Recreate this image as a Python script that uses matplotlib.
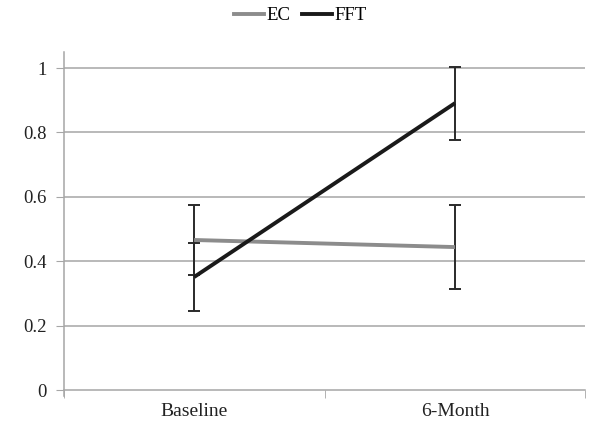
import matplotlib.pyplot as plt
from matplotlib.lines import Line2D

categories = ["Baseline", "6-Month"]
ec_vals = [0.466, 0.444]
ec_err = [0.11, 0.13]
fft_vals = [0.351, 0.891]
fft_err = [0.107, 0.113]
yticks = [0, 0.2, 0.4, 0.6, 0.8, 1]
ytick_labels = ["0", "0.2", "0.4", "0.6", "0.8", "1"]

plt.rcParams['font.family'] = ['Liberation Serif', 'DejaVu Serif']

fig = plt.figure(figsize=(6.01, 4.47), dpi=100)
ax = fig.add_axes([0.106, 0.1275, 0.868, 0.7562])

x = list(range(len(categories)))
grid_col = "#a6a6a6"
for y in yticks[1:]:
    ax.axhline(y, color=grid_col, lw=1.1, zorder=0)

# error bars
ax.errorbar(x, ec_vals, yerr=ec_err, fmt="none", ecolor="#2a2a2a",
            elinewidth=1.4, capsize=4, capthick=1.4, zorder=2)
ax.errorbar(x, fft_vals, yerr=fft_err, fmt="none", ecolor="#2a2a2a",
            elinewidth=1.4, capsize=4, capthick=1.4, zorder=2)

ax.plot(x, ec_vals, color="#8c8c8c", lw=2.8, solid_capstyle="butt", zorder=3, label="EC")
ax.plot(x, fft_vals, color="#1a1a1a", lw=2.8, solid_capstyle="butt", zorder=4, label="FFT")

ax.set_xlim(-0.5, 1.5)
ax.set_ylim(0, 1.05)
ax.set_yticks(yticks)
ax.set_yticklabels(ytick_labels, fontsize=13.5, color="#222222")
ax.set_xticks(x)
ax.set_xticklabels(categories, fontsize=14, color="#222222")
ax.set_xticks([-0.5, 0.5, 1.5], minor=True)
ax.tick_params(axis="x", which="major", length=0, pad=9)
ax.tick_params(axis="x", which="minor", length=6, color=grid_col, direction="out")
ax.tick_params(axis="y", length=6, color=grid_col, direction="out", pad=6)

for side in ["top", "right"]:
    ax.spines[side].set_visible(False)
ax.spines["left"].set_color(grid_col)
ax.spines["bottom"].set_color(grid_col)
ax.spines["left"].set_linewidth(1.1)
ax.spines["bottom"].set_linewidth(1.1)
ax.spines["left"].set_bounds(-0.018, 1.05)

handles = [Line2D([], [], color="#8c8c8c", lw=2.8), Line2D([], [], color="#1a1a1a", lw=2.8)]
fig.legend(handles, ["EC", "FFT"], loc="center", bbox_to_anchor=(0.5, 0.965),
           ncol=2, frameon=False, fontsize=13.5, handlelength=1.6,
           handletextpad=0.15, columnspacing=0.6)

fig.savefig("out.png", dpi=100)
